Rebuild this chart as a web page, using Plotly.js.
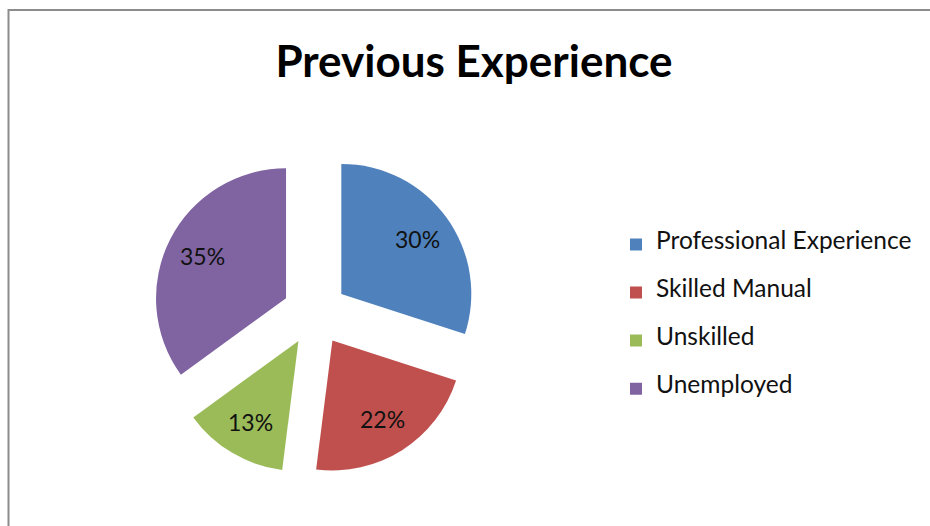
<!DOCTYPE html>
<html>
<head>
<meta charset="utf-8">
<script src="https://cdn.plot.ly/plotly-3.0.1.min.js"></script>
<style>html,body{margin:0;padding:0;background:#fff;}#chart{width:930px;height:526px;}</style>
</head>
<body>
<div id="chart"></div>
<script>
const categories = ["Professional Experience", "Skilled Manual", "Unskilled", "Unemployed"];
const shares = [30, 22, 13, 35];
const sliceColors = ["#4F81BD", "#C0504D", "#9BBB59", "#8064A2"];
const chartTitle = "Previous Experience";

const W = 930, H = 526;
// pie geometry (pixels): centre, radius, pull
const pieCx = 315, pieCy = 313, pieR = 130, pullFrac = 0.25;
const boxHalf = pieR * (1 + pullFrac);

const legendLabels = categories.map(c => ' <br><span style="font-size:24.5px">' + c + '</span><br> ');

const total = shares.reduce((a, b) => a + b, 0);
let cum = 0;
const labelAnnotations = shares.map(v => {
  const mid = (cum + v / 2) / total * 2 * Math.PI;
  cum += v;
  const d = pieR * pullFrac + pieR * 0.72;
  const px = pieCx + d * Math.sin(mid);
  const py = pieCy - d * Math.cos(mid);
  return {
    xref: 'paper', yref: 'paper', x: px / W, y: 1 - py / H,
    xanchor: 'center', yanchor: 'middle', showarrow: false,
    text: Math.round(v / total * 100) + '%',
    font: {family: 'Lato, sans-serif', size: 23, color: '#111'}
  };
});

const trace = {
  type: 'pie',
  labels: legendLabels,
  values: shares,
  sort: false,
  direction: 'clockwise',
  rotation: 0,
  pull: pullFrac,
  marker: {colors: sliceColors, line: {width: 0}},
  textinfo: 'none',
  hoverinfo: 'none',
  domain: {
    x: [(pieCx - boxHalf) / W, (pieCx + boxHalf) / W],
    y: [1 - (pieCy + boxHalf) / H, 1 - (pieCy - boxHalf) / H]
  }
};

const layout = {
  width: W, height: H,
  margin: {l: 0, r: 0, t: 0, b: 0},
  paper_bgcolor: '#fff',
  title: {
    text: '<b>' + chartTitle + '</b>',
    font: {family: 'Lato, sans-serif', size: 44, color: '#000'},
    x: 474 / W, xanchor: 'center',
    y: 1 - 62 / H, yanchor: 'middle'
  },
  showlegend: true,
  legend: {
    x: 616 / W, xanchor: 'left',
    y: 1 - 317 / H, yanchor: 'middle',
    font: {family: 'Lato, sans-serif', size: 11.55, color: '#111'},
    bgcolor: 'rgba(0,0,0,0)'
  },
  annotations: labelAnnotations,
  shapes: [{
    type: 'rect', xref: 'paper', yref: 'paper',
    x0: 8.5 / W, x1: 1.05, y0: -0.05, y1: 1 - 10 / H,
    line: {color: '#8c8c8c', width: 2}, fillcolor: 'rgba(0,0,0,0)'
  }]
};

Plotly.newPlot('chart', [trace], layout, {staticPlot: true});
</script>
</body>
</html>
